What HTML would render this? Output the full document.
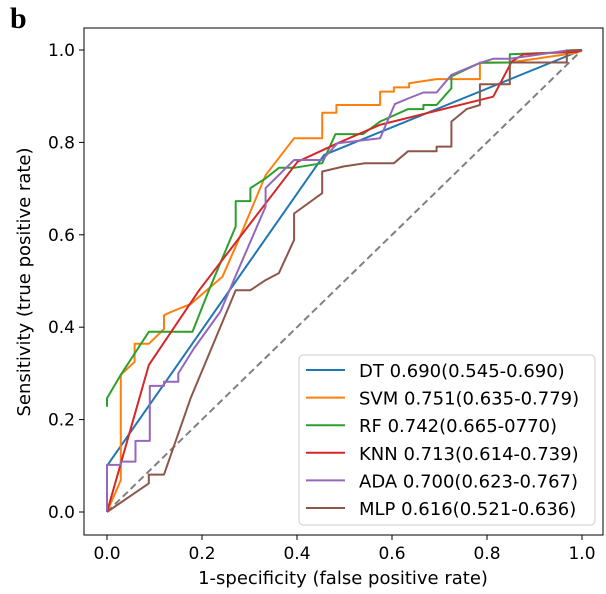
<!DOCTYPE html>
<html><head><meta charset="utf-8"><style>
html,body{margin:0;padding:0;background:#fff;}
svg{display:block;font-family:"DejaVu Sans","Liberation Sans",sans-serif;}
</style></head><body>
<svg id="chart" width="606" height="594" viewBox="0 0 606 594" xmlns="http://www.w3.org/2000/svg">
<text x="10" y="28" font-family="Liberation Serif, serif" font-weight="bold" font-size="30">b</text>
<g id="plot"></g>
</svg>
<script>
const seriesNames = ["DT","SVM","RF","KNN","ADA","MLP"];
const seriesColors = ["#1f77b4","#ff7f0e","#2ca02c","#d62728","#9467bd","#8c564b"];
const legendLabels = ["DT 0.690(0.545-0.690)","SVM 0.751(0.635-0.779)","RF 0.742(0.665-0770)","KNN 0.713(0.614-0.739)","ADA 0.700(0.623-0.767)","MLP 0.616(0.521-0.636)"];
const xTicks = [0,0.2,0.4,0.6,0.8,1.0];
const yTicks = [0,0.2,0.4,0.6,0.8,1.0];
const xTickLabels = ["0.0","0.2","0.4","0.6","0.8","1.0"];
const yTickLabels = ["0.0","0.2","0.4","0.6","0.8","1.0"];
const dtFpr = [0,0,0.457,1];
const dtTpr = [0,0.1,0.773,1];
const svmFpr = [0,0.029,0.029,0.058,0.058,0.088,0.12,0.12,0.137,0.176,0.243,0.274,0.334,0.394,0.453,0.453,0.483,0.483,0.575,0.575,0.604,0.604,0.636,0.636,0.694,0.785,0.785,0.848,0.989,1];
const svmTpr = [0,0.069,0.297,0.325,0.364,0.364,0.396,0.426,0.434,0.45,0.509,0.582,0.729,0.809,0.809,0.864,0.864,0.881,0.881,0.91,0.91,0.919,0.919,0.928,0.937,0.937,0.973,0.973,0.994,1];
const rfFpr = [0,0,0.029,0.088,0.18,0.215,0.271,0.271,0.302,0.302,0.334,0.362,0.394,0.453,0.481,0.539,0.575,0.634,0.666,0.666,0.694,0.725,0.725,0.785,0.848,0.848,0.989,1];
const rfTpr = [0.228,0.246,0.297,0.39,0.39,0.481,0.618,0.673,0.673,0.701,0.722,0.745,0.745,0.755,0.818,0.818,0.845,0.872,0.872,0.881,0.881,0.917,0.943,0.972,0.973,0.991,0.996,1];
const knnFpr = [0,0.088,0.194,0.401,0.485,0.575,0.813,0.852,0.877,0.989,1];
const knnTpr = [0,0.318,0.48,0.758,0.798,0.838,0.899,0.975,0.991,0.996,1];
const adaFpr = [0,0,0.029,0.029,0.06,0.06,0.09,0.09,0.12,0.12,0.15,0.15,0.183,0.239,0.267,0.334,0.334,0.394,0.453,0.485,0.575,0.606,0.634,0.666,0.694,0.725,0.785,0.813,0.848,0.968,1];
const adaTpr = [0,0.102,0.102,0.109,0.109,0.154,0.154,0.273,0.273,0.282,0.282,0.30,0.354,0.434,0.502,0.661,0.701,0.762,0.762,0.798,0.809,0.883,0.895,0.908,0.908,0.946,0.972,0.981,0.981,0.999,1];
const mlpFpr = [0,0.088,0.088,0.12,0.176,0.271,0.302,0.334,0.362,0.394,0.394,0.453,0.453,0.499,0.543,0.604,0.634,0.694,0.694,0.725,0.725,0.757,0.785,0.785,0.848,0.848,0.968,0.968,1];
const mlpTpr = [0,0.062,0.081,0.081,0.246,0.48,0.48,0.502,0.517,0.589,0.646,0.69,0.737,0.748,0.755,0.755,0.781,0.781,0.791,0.791,0.845,0.872,0.881,0.926,0.926,0.973,0.973,0.999,1];
const allFpr = [dtFpr,svmFpr,rfFpr,knnFpr,adaFpr,mlpFpr];
const allTpr = [dtTpr,svmTpr,rfTpr,knnTpr,adaTpr,mlpTpr];

const NS="http://www.w3.org/2000/svg";
const X0=107, X1=582, Y0=512, Y1=50;
function sx(v){return X0+v*(X1-X0);}
function sy(v){return Y0-v*(Y0-Y1);}
const g=document.getElementById('plot');
function mk(t,a){const e=document.createElementNS(NS,t);for(const k in a)e.setAttribute(k,a[k]);g.appendChild(e);return e;}

let fr=mk('rect',{x:84,y:28,width:519,height:507,fill:'none',stroke:'#000','stroke-width':1});



xTicks.forEach((v,i)=>{
  let t=mk('line',{x1:sx(v),x2:sx(v),y1:535,y2:540,stroke:'#000'});
  
  
  let l=mk('text',{x:sx(v),y:559,'font-size':17,'text-anchor':'middle'});
  l.textContent=xTickLabels[i];
  
  
});
yTicks.forEach((v,i)=>{
  let t=mk('line',{x1:79,x2:84,y1:sy(v),y2:sy(v),stroke:'#000'});
  
  
  let l=mk('text',{x:75,y:sy(v)+6,'font-size':17,'text-anchor':'end'});
  l.textContent=yTickLabels[i];
  
  
});
let xl=mk('text',{x:343,y:584,'font-size':18,'text-anchor':'middle'});
xl.textContent='1-specificity (false positive rate)';


let yl=mk('text',{x:0,y:0,'font-size':18,'text-anchor':'middle',transform:'translate(30,282) rotate(-90)'});
yl.textContent='Sensitivity (true positive rate)';



let dg=mk('line',{x1:sx(0),y1:sy(0),x2:sx(1),y2:sy(1),stroke:'#808080','stroke-width':2,'stroke-dasharray':'7,4'});



seriesNames.forEach((n,i)=>{
  const pts=allFpr[i].map((f,j)=>sx(f).toFixed(1)+','+sy(allTpr[i][j]).toFixed(1)).join(' ');
  let p=mk('polyline',{points:pts,fill:'none',stroke:seriesColors[i],'stroke-width':2,'stroke-linejoin':'round'});
  
  
});

let lb=mk('rect',{x:299,y:355,width:296,height:170,rx:4,fill:'#fff','fill-opacity':0.85,stroke:'#ccc'});


seriesNames.forEach((n,i)=>{
  const y=370+i*27.6;
  let ln=mk('line',{x1:306,x2:345,y1:y,y2:y,stroke:seriesColors[i],'stroke-width':2});
  
  
  let t=mk('text',{x:359,y:y+7,'font-size':18});
  t.textContent=legendLabels[i];
  
  
});
</script>
</body></html>
